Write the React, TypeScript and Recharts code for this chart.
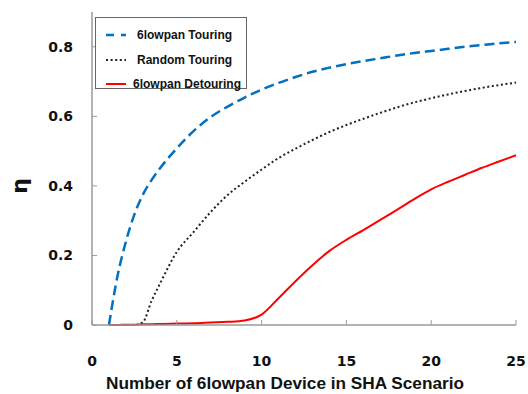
import React from 'react'
import { LineChart, Line, XAxis, YAxis, Legend } from 'recharts'

// x = number of 6lowpan devices
const devices = [1, 1.5, 2, 2.5, 3, 3.5, 4, 5, 6, 7, 8, 9, 10, 11, 12, 13, 14, 15, 16, 17, 18, 19, 20, 21, 22, 23, 24, 25]

const touring = [0, 0.14, 0.24, 0.318, 0.375, 0.416, 0.45, 0.508, 0.558, 0.598, 0.628, 0.654, 0.677, 0.696, 0.713, 0.728, 0.74, 0.75, 0.759, 0.767, 0.775, 0.782, 0.788, 0.794, 0.8, 0.805, 0.81, 0.814]
const randomTouring = [0, 0, 0, 0, 0.008, 0.068, 0.118, 0.21, 0.268, 0.325, 0.374, 0.412, 0.447, 0.48, 0.507, 0.532, 0.555, 0.575, 0.593, 0.61, 0.626, 0.64, 0.652, 0.663, 0.673, 0.682, 0.69, 0.697]
const detouring = [0, 0, 0.001, 0.001, 0.002, 0.002, 0.003, 0.004, 0.005, 0.007, 0.009, 0.013, 0.03, 0.077, 0.126, 0.172, 0.213, 0.245, 0.273, 0.302, 0.332, 0.362, 0.39, 0.412, 0.432, 0.452, 0.47, 0.488]

const xTicks = [0, 5, 10, 15, 20, 25]
const yTicks = [0, 0.2, 0.4, 0.6, 0.8]

const series = [
  { key: 'touring', name: '6lowpan Touring', color: '#0070C0', dash: '10 5', legendDash: '8 7', width: 2.5 },
  { key: 'random', name: 'Random Touring', color: '#222222', dash: '2 2.6', legendDash: '2 2.6', width: 2 },
  { key: 'detouring', name: '6lowpan Detouring', color: '#FF0000', dash: undefined, legendDash: undefined, width: 2 }
]

const data = devices.map((d, i) => ({
  n: d,
  touring: touring[i],
  random: randomTouring[i],
  detouring: detouring[i]
}))

const FONT = 'DejaVu Sans, sans-serif'
const AXIS_GRAY = '#9a9a9a'

const XTick = (props: any) => {
  const { x, y, payload } = props
  return (
    <g>
      <line x1={x} y1={y} x2={x} y2={y - 5} stroke={AXIS_GRAY} />
      <text x={x} y={y + 41} textAnchor="middle" fontFamily={FONT} fontWeight="bold" fontSize={14} fill="#111">
        {payload.value}
      </text>
    </g>
  )
}

const YTick = (props: any) => {
  const { x, y, payload } = props
  return (
    <g>
      <line x1={x} y1={y} x2={x + 5} y2={y} stroke={AXIS_GRAY} />
      <text x={x - 19} y={y + 5} textAnchor="end" fontFamily={FONT} fontWeight="bold" fontSize={14} fill="#111">
        {payload.value}
      </text>
    </g>
  )
}

const renderLegend = () => (
  <div
    style={{
      border: '1px solid #666',
      background: '#fff',
      width: 152,
      height: 72,
      boxSizing: 'border-box',
      paddingTop: 5,
      fontFamily: 'Liberation Sans, Arial, sans-serif',
      fontWeight: 'bold',
      fontSize: 12,
      color: '#111'
    }}
  >
    {series.map((s) => (
      <div key={s.key} style={{ display: 'flex', alignItems: 'center', height: 24.5 }}>
        <svg width={41} height={10}>
          <line x1={10} y1={5} x2={30} y2={5} stroke={s.color} strokeWidth={s.width} strokeDasharray={s.legendDash} />
        </svg>
        <span style={{ marginLeft: s.key === 'detouring' ? -4 : 0 }}>{s.name}</span>
      </div>
    ))}
  </div>
)

export default function App () {
  return (
    <div style={{ position: 'absolute', left: 0, top: 0, background: '#fff' }}>
      <LineChart width={528} height={394} data={data} margin={{ top: 12, right: 12, bottom: 0, left: 0 }}>
        <XAxis
          dataKey="n"
          type="number"
          domain={[0, 25]}
          ticks={xTicks}
          interval={0}
          height={69}
          tickSize={0}
          tickMargin={0}
          tickLine={false}
          tick={<XTick />}
          axisLine={{ stroke: AXIS_GRAY, strokeWidth: 1.5 }}
          label={{
            content: (p: any) => {
              const vb = p.viewBox
              return (
                <text
                  x={vb.x + vb.width / 2 - 19}
                  y={vb.y + 64}
                  textAnchor="middle"
                  fontFamily="Liberation Sans, Arial, sans-serif"
                  fontWeight="bold"
                  fontSize={17}
                  fill="#111"
                  textLength={358}
                  lengthAdjust="spacingAndGlyphs"
                >
                  Number of 6lowpan Device in SHA Scenario
                </text>
              )
            }
          }}
        />
        <XAxis xAxisId="top" orientation="top" dataKey="n" type="number" domain={[0, 25]} height={0} tick={false} tickLine={false} axisLine={{ stroke: AXIS_GRAY, strokeWidth: 1.5 }} />
        <YAxis
          type="number"
          domain={[0, 0.9]}
          ticks={yTicks}
          interval={0}
          width={92}
          tickSize={0}
          tickMargin={0}
          tickLine={false}
          tick={<YTick />}
          axisLine={{ stroke: AXIS_GRAY, strokeWidth: 1.5 }}
          label={{
            content: () => (
              <text x={27} y={186} transform="rotate(-90 27 186)" textAnchor="middle" fontFamily={FONT} fontWeight="bold" fontSize={22} fill="#111">
                η
              </text>
            )
          }}
        />
        <YAxis yAxisId="right" orientation="right" type="number" domain={[0, 0.9]} width={0} tick={false} tickLine={false} axisLine={{ stroke: AXIS_GRAY, strokeWidth: 1.5 }} />
        <Legend
          layout="vertical"
          align="center"
          verticalAlign="middle"
          content={renderLegend}
          wrapperStyle={{ top: 17, left: 95, width: 152, height: 72 }}
        />
        {series.map((s) => (
          <Line
            key={s.key}
            type="monotone"
            dataKey={s.key}
            name={s.name}
            stroke={s.color}
            strokeWidth={s.width}
            strokeDasharray={s.dash}
            dot={false}
            activeDot={false}
            isAnimationActive={false}
          />
        ))}
      </LineChart>
    </div>
  )
}
